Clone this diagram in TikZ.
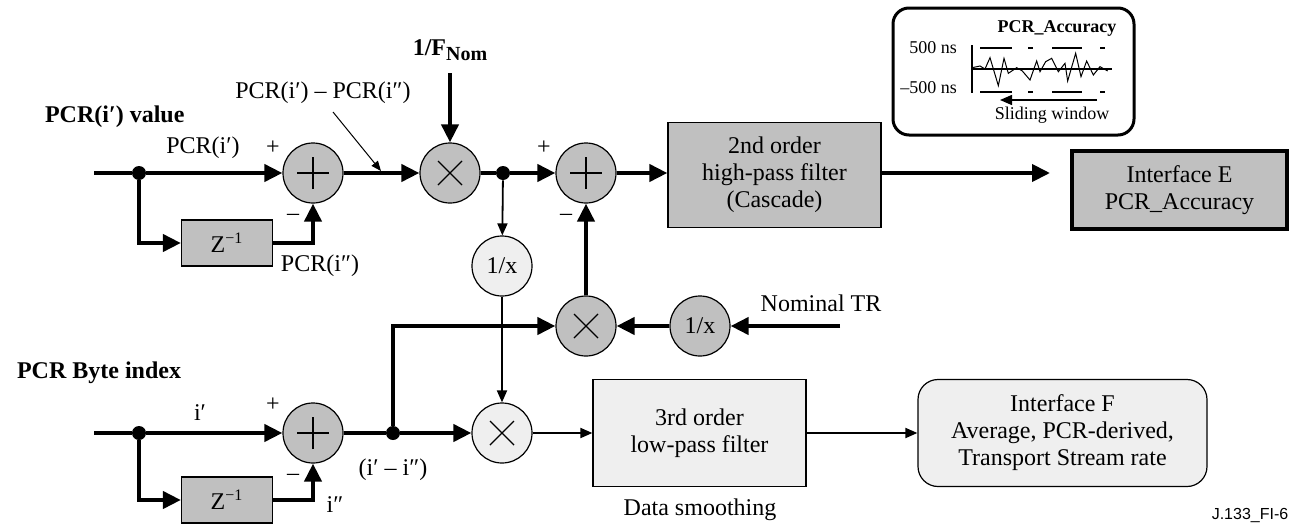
\documentclass[tikz,border=0pt]{standalone}
\usepackage{fontspec}
\setmainfont{Liberation Serif}
\setsansfont{Liberation Sans}
\usetikzlibrary{arrows.meta, calc, positioning}
\definecolor{DGray}{HTML}{C0C0C0}
\definecolor{LGray}{HTML}{EFEFEF}

\begin{document}
\begin{tikzpicture}[x=0.5pt, y=-0.5pt,
  font=\fontsize{12}{13.5}\selectfont,
  sum/.style={circle, draw, fill=DGray, minimum size=30pt, inner sep=0pt, line width=0.6pt,
    path picture={\draw[line width=0.7pt] (path picture bounding box.center) ++(-8pt,0) -- ++(16pt,0)
      (path picture bounding box.center) ++(0,-8pt) -- ++(0,16pt);}},
  mul/.style={circle, draw, fill=DGray, minimum size=30pt, inner sep=0pt, line width=0.6pt,
    path picture={\draw[line width=0.7pt] (path picture bounding box.center) ++(-6pt,-6pt) -- ++(12pt,12pt)
      (path picture bounding box.center) ++(-6pt,6pt) -- ++(12pt,-12pt);}},
  inv/.style={circle, draw, fill=DGray, minimum size=30pt, inner sep=0pt, line width=0.6pt},
  blk/.style={draw, fill=DGray, line width=0.6pt, align=center, inner sep=0pt},
  thk/.style={line width=2pt, -{Triangle[length=9pt, width=8.5pt]}},
  thn/.style={line width=0.9pt, -{Triangle[length=6pt, width=5pt]}},
  dot/.style={circle, fill, minimum size=7pt, inner sep=0pt},
  sgn/.style={font=\fontsize{12}{13}\selectfont},
  small/.style={font=\fontsize{9}{10}\selectfont},
]
\useasboundingbox (0,0) rectangle (1292,525);

% upper path: PCR value
\coordinate (inA) at (94,173);
\node[dot] (dA) at (139,173) {};
\node[sum] (sumA) at (313,173) {};
\node[blk, minimum width=45.5pt, minimum height=23pt] (zA) at (227,243) {Z\textsuperscript{−1}};
\node[mul] (multA) at (450,173) {};
\coordinate (fIn) at (450,73);
\node[dot] (dB) at (503,173) {};
\node[sum] (sumB) at (586,173) {};
\node[blk, minimum width=106.5pt, minimum height=52.5pt] (hpf) at (774.5,175) {2nd order\\high-pass filter\\(Cascade)};
\coordinate (eOut) at (1050,173);
\node[blk, line width=2pt, minimum width=107.5pt, minimum height=39pt] (ifE) at (1179.5,190) {Interface E\\PCR\_Accuracy};

% middle: rate correction
\node[inv, fill=LGray] (recA) at (502,266) {1/x};
\node[mul] (multB) at (586,326) {};
\node[inv] (recB) at (700,326) {1/x};
\coordinate (nIn) at (840,326);

% lower path: byte index
\coordinate (inB) at (94,433);
\node[dot] (dD) at (139,433) {};
\node[sum] (sumC) at (313,433) {};
\node[blk, minimum width=45.5pt, minimum height=23pt] (zB) at (227,500) {Z\textsuperscript{−1}};
\node[dot] (dC) at (393,433) {};
\node[mul, fill=LGray] (multC) at (502,433) {};
\node[blk, fill=LGray, minimum width=106.5pt, minimum height=53.5pt] (lpf) at (699.5,433) {3rd order\\low-pass filter};
\node[blk, fill=LGray, rounded corners=10pt, minimum width=144.5pt, minimum height=53.5pt] (ifF) at (1062.5,433) {Interface F\\Average, PCR-derived,\\Transport Stream rate};

% connectors
\draw[line width=2pt] (inA) -- (dA);
\draw[thk] (dA) -- (sumA);
\draw[thk] (dA) |- (zA);
\draw[thk] (zA) -| (sumA);
\draw[thk] (sumA) -- (multA);
\draw[thk] (fIn) -- (multA);
\draw[line width=2pt] (multA) -- (dB);
\draw[thk] (dB) -- (sumB);
\draw[thk] (sumB) -- (sumB -| hpf.west);
\draw[thk] (sumB -| hpf.east) -- (eOut);
\draw[thn] (dB) -- (recA);
\draw[thn] (recA) -- (multC);
\draw[thk] (multB) -- (sumB);
\draw[thk] (nIn) -- (recB);
\draw[thk] (recB) -- (multB);
\draw[thk] (dC) |- (multB);
\draw[line width=2pt] (inB) -- (dD);
\draw[thk] (dD) -- (sumC);
\draw[thk] (dD) |- (zB);
\draw[thk] (zB) -| (sumC);
\draw[line width=2pt] (sumC) -- (dC);
\draw[thk] (dC) -- (multC);
\draw[thn] (multC) -- (lpf);
\draw[thn] (lpf) -- (ifF);

% labels
\node[anchor=west, font=\fontsize{12}{13.5}\selectfont\bfseries] (tA) at (38,117) {PCR(i′) value};
\node (lA) at (203,148) {PCR(i′)};
\node[sgn] (pA) at (273,148) {+};
\node[sgn] (mA) at (293,217) {–};
\node (lB) at (320,266) {PCR(i″)};
\node (lD) at (323,93) {PCR(i′) – PCR(i″)};
\coordinate (ptA) at (333,112);
\coordinate (ptB) at (381,171);
\draw[line width=0.5pt, -{Triangle[length=5pt, width=4pt]}] (ptA) -- (ptB);
\node[font=\fontsize{12}{13.5}\selectfont\bfseries] (lF) at (450,50) {1/F\raisebox{-0.45ex}{\fontsize{10}{10}\selectfont Nom}};
\node[sgn] (pB) at (544,148) {+};
\node[sgn] (mB) at (566,217) {–};
\node (lN) at (821,303) {Nominal TR};
\node[anchor=west, font=\fontsize{12}{13.5}\selectfont\bfseries] (tB) at (10,373) {PCR Byte index};
\node (lI) at (200,413) {i′};
\node[sgn] (pC) at (273,405) {+};
\node[sgn] (mC) at (293,477) {–};
\node (lJ) at (335,505) {i″};
\node (lK) at (393,470) {(i′ – i″)};
\node (lS) at (700,510) {Data smoothing};
\node[font=\fontsize{8}{9}\selectfont\sffamily] (fig) at (1250,515) {J.133\_FI-6};

% inset: PCR accuracy
\node[draw, line width=1.5pt, rounded corners=8pt, minimum width=120.5pt, minimum height=63.5pt] (acc) at (1013.5,71.5) {};
\node[small, font=\fontsize{9}{10}\selectfont\bfseries] (accT) at (1057,28) {PCR\_Accuracy};
\node[small, anchor=east] (hiT) at (964,48) {500 ns};
\node[small, anchor=east] (loT) at (964,88) {–500 ns};
\draw[line width=0.6pt] (972,45) -- (972,93);
\draw[line width=0.6pt] (972,69) -- (1112,69);
\draw[line width=0.6pt, dash pattern=on 16pt off 8pt on 2.5pt off 9.5pt on 15pt off 9pt on 2.5pt off 9pt] (980,48) -- (1105,48);
\draw[line width=0.6pt, dash pattern=on 16pt off 8pt on 2.5pt off 9.5pt on 15pt off 9pt on 2.5pt off 9pt] (980,92) -- (1105,92);
\begin{scope}[shift={(885,5)}, scale=1/3]
\draw[line width=0.5pt] plot coordinates {(262,188) (285,183) (300,192) (315,158) (340,242) (357,160)
  (370,205) (395,188) (412,198) (435,225) (455,168) (465,200) (482,170) (500,160) (520,200)
  (540,175) (548,228) (572,145) (588,215) (605,168) (625,210) (645,185) (668,198)};
\end{scope}
\coordinate (swA) at (1097,100);
\coordinate (swB) at (1000,100);
\draw[line width=0.7pt, -{Triangle[length=6pt, width=5pt]}] (swA) -- (swB);
\node[small] (swT) at (1052,115) {Sliding window};
\end{tikzpicture}
\end{document}
